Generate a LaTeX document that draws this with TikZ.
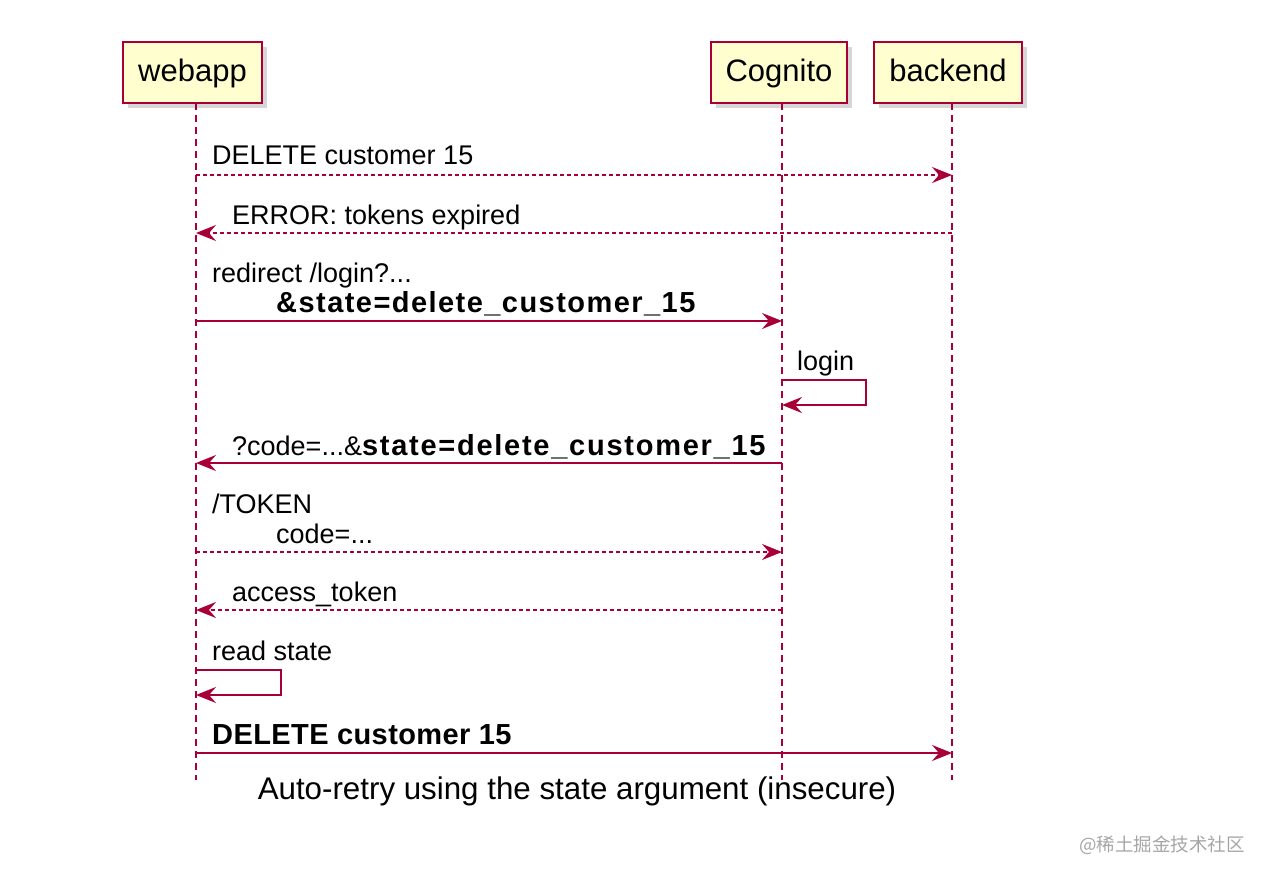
\documentclass[tikz,border=0pt]{standalone}
\usepackage{fontspec}
\setmainfont{Liberation Sans}
\newfontfamily\cjkfont{Noto Sans CJK SC}
\usetikzlibrary{arrows.meta,shadows}

\definecolor{umlred}{HTML}{A80036}
\definecolor{umlfill}{HTML}{FEFECE}

% bold parts of the labels are set a bit larger and wider
\newcommand\boldpart[2][5]{{\fontsize{29}{32}\selectfont\bfseries\addfontfeature{LetterSpace=#1}#2}}

\tikzset{
  actorbox/.style={draw=umlred, fill=umlfill, line width=1.8pt,
    minimum height=61pt, inner sep=0pt, text height=24pt, text depth=5pt,
    font=\fontsize{31}{36}\selectfont,
    drop shadow={shadow xshift=5pt, shadow yshift=-5pt, fill=black!40, opacity=0.4}},
  lifeline/.style={umlred, line width=1.6pt, dash pattern=on 7pt off 5pt},
  msg/.style={umlred, line width=1.6pt, -{Stealth[length=20pt,width=16pt,inset=7pt]}},
  reply/.style={msg, dash pattern=on 4pt off 3pt},
  msgtext/.style={anchor=base west, inner sep=0pt, font=\fontsize{27}{32}\selectfont},
}

\begin{document}
\begin{tikzpicture}[x=1pt,y=-1pt]
  \useasboundingbox (0,0) rectangle (1270,880);

  % participants
  \node[actorbox, minimum width=139pt] (webapp) at (192.5,72.5) {webapp};
  \node[actorbox, minimum width=136pt] (cognito) at (779,72.5) {Cognito};
  \node[actorbox, minimum width=148pt] (backend) at (948,72.5) {backend};

  % lifelines
  \coordinate (w top) at (196,103);  \coordinate (w end) at (196,780);
  \coordinate (c top) at (782,103);  \coordinate (c end) at (782,780);
  \coordinate (b top) at (952,103);  \coordinate (b end) at (952,780);
  \draw[lifeline] (w top) -- (w end);
  \draw[lifeline] (c top) -- (c end);
  \draw[lifeline] (b top) -- (b end);

  % message levels
  \foreach \lvl/\y in {1/175, 2/233, 3/321, 5/463, 6/552, 7/610, 9/753} {
    \coordinate (w\lvl) at (196,\y);
    \coordinate (c\lvl) at (782,\y);
    \coordinate (b\lvl) at (952,\y);
  }
  \coordinate (c4 out) at (782,380);  \coordinate (c4 in) at (782,405);
  \coordinate (w8 out) at (196,670);  \coordinate (w8 in) at (196,695);

  % messages
  \draw[reply] (w1) -- (b1);
  \node[msgtext] (m1) at (212,165) {DELETE customer 15};

  \draw[reply] (b2) -- (w2);
  \node[msgtext] (m2) at (232,224) {ERROR: tokens expired};

  \draw[msg] (w3) -- (c3);
  \node[msgtext] (m3a) at (212,282) {redirect /login?...};
  \node[msgtext] (m3b) at (276,312) {\boldpart{\&state=delete\_customer\_15}};

  \draw[msg] (c4 out) -- ++(84,0) |- (c4 in);
  \node[msgtext] (m4) at (797,370) {login};

  \draw[msg] (c5) -- (w5);
  \node[msgtext] (m5) at (232,455) {?code=...\&\boldpart[6]{state=delete\_customer\_15}};

  \draw[reply] (w6) -- (c6);
  \node[msgtext] (m6a) at (212,513) {/TOKEN};
  \node[msgtext] (m6b) at (276,543) {code=...};

  \draw[reply] (c7) -- (w7);
  \node[msgtext] (m7) at (232,601) {access\_token};

  \draw[msg] (w8 out) -- ++(85,0) |- (w8 in);
  \node[msgtext] (m8) at (212,660) {read state};

  \draw[msg] (w9) -- (b9);
  \node[msgtext] (m9) at (212,744) {\boldpart[1.4]{DELETE customer 15}};

  % title and mark
  \node[anchor=base, inner sep=0pt, font=\fontsize{31.3}{36}\selectfont] (title) at (577,799)
    {Auto-retry using the state argument (insecure)};
  \node[anchor=east, inner sep=0pt, text=black!35, font=\cjkfont\fontsize{18.5}{22}\selectfont] (mark) at (1245,845)
    {@稀土掘金技术社区};
\end{tikzpicture}
\end{document}
